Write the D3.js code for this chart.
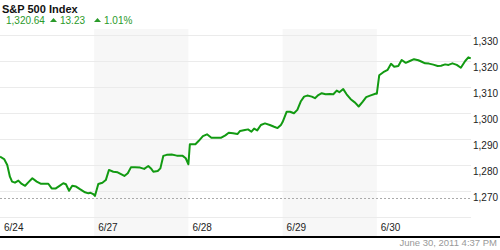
<!DOCTYPE html>
<html>
<head>
<meta charset="utf-8">
<script src="https://cdn.jsdelivr.net/npm/d3@7"></script>
<style>
  html, body { margin: 0; padding: 0; background: #fff; }
  #chart { width: 500px; height: 250px; }
  text { font-family: Arial, "Liberation Sans", sans-serif; }
</style>
</head>
<body>
<div id="chart"></div>
<script>
// trading days shown, minutes since the open (0..390) and index level
const days = ["6/24", "6/27", "6/28", "6/29", "6/30"];
const jun24 = [[0,1283.2],[17,1282.3],[30,1280.0],[41,1275.5],[50,1273.6],[62,1273.2],[76,1274.0],[90,1272.7],[104,1272.0],[117,1273.3],[134,1274.9],[152,1273.6],[168,1272.8],[200,1272.8],[214,1271.0],[231,1271.0],[245,1271.9],[262,1273.0],[273,1272.6],[286,1270.1],[299,1272.0],[315,1271.7],[331,1270.7],[352,1269.5],[366,1269.1],[375,1269.3],[386,1268.8],[390,1268.5]];
const jun27 = [[3,1268.1],[17,1272.7],[34,1273.2],[48,1274.2],[61,1278.1],[79,1277.4],[97,1277.2],[111,1276.5],[125,1275.8],[139,1276.8],[152,1279.1],[169,1279.1],[190,1279.0],[207,1278.5],[224,1279.6],[235,1278.7],[245,1277.4],[263,1277.7],[274,1278.7],[286,1283.5],[300,1283.9],[321,1284.0],[342,1283.6],[365,1283.6],[379,1282.6],[390,1280.3]];
const jun28 = [[6,1288.0],[29,1288.0],[43,1289.3],[60,1291.1],[77,1291.8],[95,1290.5],[116,1290.5],[136,1290.5],[153,1291.4],[167,1292.4],[185,1292.2],[203,1291.9],[214,1293.1],[234,1293.5],[247,1293.7],[261,1292.8],[272,1294.0],[285,1293.3],[300,1295.4],[317,1296.0],[337,1295.4],[355,1294.7],[369,1294.2],[383,1295.4],[390,1296.5]];
const jun29 = [[17,1300.5],[31,1300.5],[47,1299.9],[61,1301.2],[75,1304.4],[89,1306.3],[102,1306.7],[121,1306.3],[134,1305.7],[148,1306.9],[162,1307.6],[178,1307.2],[196,1307.3],[210,1307.2],[224,1308.6],[235,1308.0],[251,1309.2],[265,1307.2],[282,1305.3],[300,1304.0],[315,1302.5],[332,1304.4],[346,1306.1],[362,1306.7],[387,1307.5],[390,1307.4]];
const jun30 = [[10,1314.5],[27,1315.7],[45,1316.6],[59,1318.9],[72,1317.8],[89,1318.1],[103,1320.4],[120,1319.3],[137,1320.0],[154,1320.7],[172,1320.3],[186,1319.7],[200,1319.1],[216,1319.0],[234,1318.6],[252,1318.1],[266,1318.2],[283,1318.7],[297,1318.5],[313,1319.1],[331,1318.5],[348,1317.4],[366,1320.0],[379,1321.4],[389,1321.0]];
const series = [jun24, jun27, jun28, jun29, jun30];
const yTicks = [1260, 1270, 1280, 1290, 1300, 1310, 1320, 1330];
const refLevel = 1267.3;
const lastPrice = "1,320.64", change = "13.23", changePct = "1.01%";
const stamp = "June 30, 2011 4:37 PM";

const width = 500, height = 250;
const svg = d3.select("#chart").append("svg")
  .attr("width", width)
  .attr("height", height);

const x = d3.scaleLinear().domain([0, days.length * 390]).range([0, 471]);
const y = d3.scaleLinear().domain([1260, 1330]).range([217, 35]);

// alternate day shading
svg.selectAll(".band")
  .data(days.map((d, i) => i).filter(i => i % 2 === 1))
  .enter().append("rect")
  .attr("x", i => x(i * 390))
  .attr("y", 29)
  .attr("width", i => x((i + 1) * 390) - x(i * 390))
  .attr("height", 207)
  .attr("fill", "#f7f7f7");

// horizontal grid
svg.selectAll(".grid")
  .data(yTicks)
  .enter().append("line")
  .attr("x1", 0).attr("x2", 471)
  .attr("y1", d => y(d) + 0.5).attr("y2", d => y(d) + 0.5)
  .attr("stroke", "#ebebeb");

// reference (previous close) line
svg.append("line")
  .attr("x1", 0).attr("x2", 471)
  .attr("y1", Math.round(y(refLevel)) + 0.5).attr("y2", Math.round(y(refLevel)) + 0.5)
  .attr("stroke", "#aaa")
  .attr("stroke-dasharray", "2,2");

// y labels
svg.selectAll(".ylab")
  .data(yTicks.filter(d => d >= 1270))
  .enter().append("text")
  .attr("x", 473)
  .attr("y", d => y(d) + 10)
  .attr("font-size", "10px")
  .attr("fill", "#222")
  .text(d => d3.format(",")(d));

// day labels
svg.selectAll(".xlab")
  .data(days)
  .enter().append("text")
  .attr("x", (d, i) => x(i * 390) + 4)
  .attr("y", 231)
  .attr("font-size", "10px")
  .attr("fill", "#222")
  .text(d => d);

// price line
const points = series.flatMap((s, i) => s.map(p => [i * 390 + p[0], p[1]]));
const line = d3.line()
  .x(d => x(d[0]))
  .y(d => y(d[1]));

svg.append("path")
  .datum(points)
  .attr("d", line)
  .attr("fill", "none")
  .attr("stroke", "#129a12")
  .attr("stroke-width", 2)
  .attr("stroke-linejoin", "round");

// bottom axis rule
svg.append("rect")
  .attr("x", 0).attr("y", 236)
  .attr("width", width).attr("height", 2)
  .attr("fill", "#000");

svg.append("text")
  .attr("x", 497)
  .attr("y", 246)
  .attr("text-anchor", "end")
  .attr("font-size", "9.5px")
  .attr("fill", "#999")
  .text(stamp);

// header
svg.append("text")
  .attr("x", 2)
  .attr("y", 13)
  .attr("font-size", "11px")
  .attr("font-weight", "bold")
  .attr("fill", "#111")
  .text("S&P 500 Index");

const green = "#2a9a2a";
const header = svg.append("g").attr("fill", green).attr("font-size", "10px");
header.append("text").attr("x", 6).attr("y", 24).text(lastPrice);
header.append("path").attr("d", "M50,22 L53.5,18 L57,22 Z");
header.append("text").attr("x", 60).attr("y", 24).text(change);
header.append("path").attr("d", "M94,22 L97.5,18 L101,22 Z");
header.append("text").attr("x", 104).attr("y", 24).text(changePct);
</script>
</body>
</html>
